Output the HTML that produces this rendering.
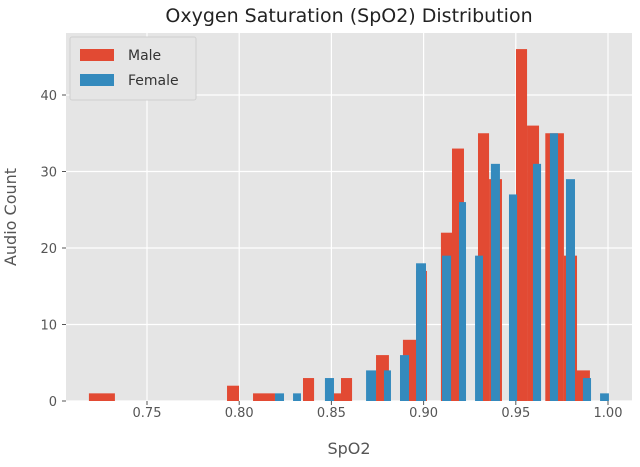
<!DOCTYPE html>
<html><head><meta charset="utf-8"><style>
body{margin:0;background:#fff;width:640px;height:463px;overflow:hidden;font-family:"DejaVu Sans","Liberation Sans",sans-serif}
</style></head><body>
<svg id="chart" width="640" height="463" xmlns="http://www.w3.org/2000/svg" font-family="DejaVu Sans, Liberation Sans, sans-serif">
<text x="349" y="22" font-size="19" text-anchor="middle" fill="#222">Oxygen Saturation (SpO2) Distribution</text>
<rect x="66" y="33" width="566" height="368" fill="#e5e5e5"/>
<g id="grid"></g><g id="bars"></g><g id="axes"></g>
<text x="349" y="454" font-size="16" text-anchor="middle" fill="#555">SpO2</text>
<text transform="translate(16,217) rotate(-90)" font-size="16" text-anchor="middle" fill="#555">Audio Count</text>
<g>
<rect x="70" y="37" width="126" height="63" fill="#e5e5e5" stroke="#d0d0d0" rx="2"/>
<rect x="80" y="49" width="34" height="12" fill="#e24a33"/>
<text x="128" y="60" font-size="14" fill="#333">Male</text>
<rect x="80" y="74" width="34" height="12" fill="#348abd"/>
<text x="128" y="85" font-size="14" fill="#333">Female</text>
</g>
</svg>
<script>
const maleLeft=[0.7185,0.7934,0.8075,0.8346,0.8514,0.8552,0.8742,0.8888,0.8959,0.9094,0.9154,0.9295,0.9355,0.9501,0.9561,0.966,0.9761,0.9826];
const maleRight=[0.7326,0.7999,0.8194,0.8406,0.8552,0.8612,0.8812,0.8959,0.9018,0.9159,0.9219,0.9355,0.9425,0.9561,0.9626,0.9761,0.9832,0.9902];
const maleCounts=[1,2,1,3,1,3,6,8,17,22,33,35,29,46,36,35,19,4];
const femaleLeft=[0.8194,0.8292,0.8465,0.8688,0.8785,0.8872,0.8959,0.9100,0.9192,0.9279,0.9365,0.9463,0.9593,0.9685,0.9772,0.9864,0.9957];
const femaleRight=[0.8243,0.8335,0.8514,0.8742,0.8823,0.8921,0.9013,0.9149,0.9230,0.9322,0.9414,0.9507,0.9637,0.9729,0.9821,0.9908,1.0005];
const femaleCounts=[1,1,3,4,4,6,18,19,26,19,31,27,31,35,29,3,1];
const xTicks=[0.75,0.80,0.85,0.90,0.95,1.00];
const yTicks=[0,10,20,30,40];
const NS="http://www.w3.org/2000/svg";
const xS=v=>147+(v-0.75)*1844;
const yS=v=>401-v*7.65;
function mk(tag,attrs,parent){const e=document.createElementNS(NS,tag);for(const k in attrs)e.setAttribute(k,attrs[k]);document.getElementById(parent).appendChild(e);return e;}
xTicks.forEach(t=>{
 const l=mk('line',{x1:xS(t),x2:xS(t),y1:33,y2:401,stroke:'#fff','stroke-width':1.2},'grid');
 
 
 const tx=mk('text',{x:xS(t),y:417,'font-size':13,'text-anchor':'middle',fill:'#555'},'axes');
 tx.textContent=t.toFixed(2);
 
 
 mk('line',{x1:xS(t),x2:xS(t),y1:401,y2:405,stroke:'#555'},'axes');
});
yTicks.forEach(t=>{
 const l=mk('line',{x1:66,x2:632,y1:yS(t),y2:yS(t),stroke:'#fff','stroke-width':1.2},'grid');
 
 
 const tx=mk('text',{x:57,y:yS(t)+5,'font-size':13,'text-anchor':'end',fill:'#555'},'axes');
 tx.textContent=t;
 
 
 mk('line',{x1:62,x2:66,y1:yS(t),y2:yS(t),stroke:'#555'},'axes');
});
function drawSeries(L,R,C,color,name){
 for(let i=0;i<C.length;i++){
  const r=mk('rect',{x:xS(L[i]),y:yS(C[i]),width:xS(R[i])-xS(L[i]),height:yS(0)-yS(C[i]),fill:color},'bars');
  
  
 }
}
drawSeries(maleLeft,maleRight,maleCounts,'#e24a33','male-bar');
drawSeries(femaleLeft,femaleRight,femaleCounts,'#348abd','female-bar');
</script>
</body></html>
